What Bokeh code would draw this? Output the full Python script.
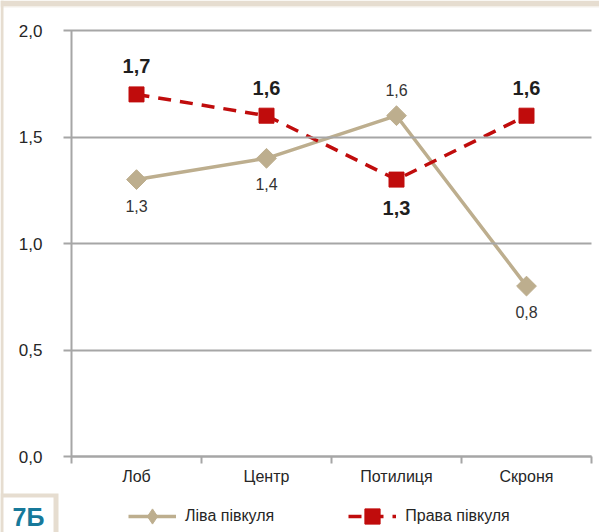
import math
from bokeh.plotting import figure
from bokeh.models import (ColumnDataSource, FixedTicker, Legend, LegendItem,
                          BoxAnnotation, Label)
from bokeh.core.properties import value
from bokeh.embed import file_html
from bokeh.resources import INLINE

# --- data -------------------------------------------------------------
regions = ["Лоб", "Центр", "Потилиця", "Скроня"]
left_hemisphere = [1.3, 1.4, 1.6, 0.8]
right_hemisphere = [1.7, 1.6, 1.3, 1.6]
y_ticks = [0.0, 0.5, 1.0, 1.5, 2.0]
series_names = ["Ліва півкуля", "Права півкуля"]
panel_tag = "7Б"

# label placement per point: +1 above the marker, -1 below it
left_side = [-1, -1, 1, -1]
right_side = [1, 1, -1, 1]

# --- page geometry (pixels) --------------------------------------------
W, H = 599, 532
PLOT_LEFT = 71      # y axis position
CAT_W = 130         # width of one category slot
AXIS_Y = 456        # x axis position (value 0)
UNIT_H = 213        # pixels per 1.0 on the value axis

def px2x(px):
    return (px - PLOT_LEFT) / CAT_W

def py2y(py):
    return (AXIS_Y - py) / UNIT_H

FONT = "Liberation Sans"
BEIGE = "#e6ddd0"
TAN = "#bdae8e"
RED = "#c00c0c"
GRID = "#a6a6a6"
INK = "#262626"

xs = [i + 0.5 for i in range(len(regions))]

def fmt(v):
    return f"{v:.1f}".replace(".", ",")

left_src = ColumnDataSource(dict(
    x=xs, y=left_hemisphere, label=[fmt(v) for v in left_hemisphere],
    off=[-26 * s for s in left_side]))
right_src = ColumnDataSource(dict(
    x=xs, y=right_hemisphere, label=[fmt(v) for v in right_hemisphere],
    off=[-28 * s for s in right_side]))

# the frame fills the whole canvas; the axes are pinned at x=0 and y=0
p = figure(width=W, height=H,
           x_range=(px2x(0), px2x(W)), y_range=(py2y(H), py2y(0)),
           output_backend="svg", toolbar_location=None,
           min_border=0, min_border_left=0, min_border_right=0,
           min_border_top=0, min_border_bottom=0)
p.background_fill_color = "white"
p.border_fill_color = "white"
p.outline_line_color = None
p.grid.visible = False

# x axis: category names centred in slots, ticks on slot boundaries
xa = p.xaxis[0]
xa.fixed_location = 0
xa.bounds = (0, len(regions))
xa.ticker = FixedTicker(ticks=xs, minor_ticks=list(range(len(regions) + 1)))
xa.major_label_overrides = {x: r for x, r in zip(xs, regions)}
xa.major_tick_out = 0
xa.major_tick_in = 0
xa.minor_tick_out = 7
xa.minor_tick_in = 0
xa.minor_tick_line_color = GRID
xa.minor_tick_line_width = 2
xa.axis_line_color = GRID
xa.axis_line_width = 2
xa.major_label_standoff = 4
xa.major_label_text_font = FONT
xa.major_label_text_font_size = "16px"
xa.major_label_text_color = INK

# y axis: long inward ticks serve as the horizontal grid lines
ya = p.yaxis[0]
ya.fixed_location = 0
ya.bounds = (0, 2)
ya.ticker = FixedTicker(ticks=y_ticks)
ya.major_label_overrides = {t: fmt(t) for t in y_ticks}
ya.major_tick_out = 8
ya.major_tick_in = len(regions) * CAT_W
ya.minor_tick_out = 0
ya.minor_tick_in = 0
ya.major_tick_line_color = GRID
ya.major_tick_line_width = 2
ya.axis_line_color = GRID
ya.axis_line_width = 2
ya.major_label_standoff = 21
ya.major_label_text_font = FONT
ya.major_label_text_font_size = "17px"
ya.major_label_text_color = INK

# series
l_line = p.line("x", "y", source=left_src, line_color=TAN, line_width=3.5)
l_mark = p.scatter("x", "y", source=left_src, marker="square", size=14,
                   angle=math.pi / 4, fill_color=TAN, line_color=TAN)
# diamond key used only by the legend (zero size on the chart itself)
l_key = p.scatter("x", "y", source=left_src, marker="diamond", size=0,
                  fill_color=TAN, line_color=TAN)
r_line = p.line("x", "y", source=right_src, line_color=RED, line_width=3.5,
                line_dash="13 9")
r_mark = p.scatter("x", "y", source=right_src, marker="square", size=15,
                   fill_color=RED, line_color=RED)

p.text("x", "y", text="label", source=left_src, y_offset="off",
       text_align="center", text_baseline="middle",
       text_font=value(FONT), text_font_size="16px", text_color="#333333")
p.text("x", "y", text="label", source=right_src, y_offset="off",
       text_align="center", text_baseline="middle",
       text_font=value(FONT), text_font_size="20px", text_font_style="bold",
       text_color="#1f1f1f")

# legend under the category labels
legend = Legend(items=[
    LegendItem(label=series_names[0], renderers=[l_line, l_key]),
    LegendItem(label=series_names[1], renderers=[r_line, r_mark]),
], orientation="horizontal", location=(128, -3),
   glyph_width=48, glyph_height=38, label_standoff=9, spacing=74,
   label_text_font=FONT, label_text_font_size="16px",
   label_text_color=INK, background_fill_alpha=0,
   border_line_color=None, padding=0, margin=0)
p.add_layout(legend)

# page frame: beige strips and the tag box
def page_box(l, r, t, b, color):
    return BoxAnnotation(left=px2x(l), right=px2x(r), top=py2y(t), bottom=py2y(b),
                         fill_color=color, fill_alpha=1, line_color=None)

p.add_layout(page_box(0, W, 0, 6, BEIGE))
p.add_layout(page_box(0, W, 6, 7, "#f4f0ea"))
p.add_layout(page_box(0, 3, 0, H, BEIGE))
p.add_layout(page_box(0, 58, 493, H, BEIGE))
p.add_layout(page_box(3, 53, 497, H, "white"))
p.add_layout(Label(x=px2x(28), y=py2y(516), text=panel_tag,
                   text_align="center", text_baseline="middle",
                   text_font=FONT, text_font_size="25px", text_font_style="bold",
                   text_color="#17799a"))

open("out.html", "w").write(file_html(p, INLINE))
